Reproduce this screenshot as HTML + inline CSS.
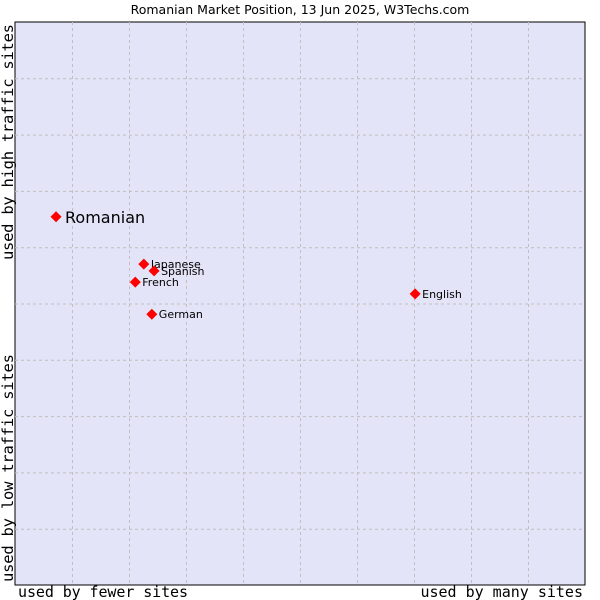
<!DOCTYPE html>
<html><head><meta charset="utf-8"><style>
body{margin:0;background:#fff;}
svg{display:block;font-family:"DejaVu Sans","Liberation Sans",sans-serif;}
</style></head><body>
<svg id="chart" width="600" height="600">
<text x="300" y="14" text-anchor="middle" font-size="12.5" fill="#000">Romanian Market Position, 13 Jun 2025, W3Techs.com</text>
<rect x="15" y="22" width="570" height="563" fill="#e3e4f8" stroke="#000" stroke-width="1"/>
<g id="grid"></g>
<g id="points"></g>
<text x="18" y="597" font-family="DejaVu Sans Mono,Liberation Mono,monospace" font-size="15" textLength="170">used by fewer sites</text>
<text x="583" y="597" text-anchor="end" font-family="DejaVu Sans Mono,Liberation Mono,monospace" font-size="15">used by many sites</text>
<text transform="translate(13,260) rotate(-90)" font-family="DejaVu Sans Mono,Liberation Mono,monospace" font-size="15.5" textLength="236">used by high traffic sites</text>
<text transform="translate(13,582) rotate(-90)" font-family="DejaVu Sans Mono,Liberation Mono,monospace" font-size="15.5" textLength="228">used by low traffic sites</text>
</svg>
<script>
const languages=["Romanian","Japanese","Spanish","French","German","English"];
const siteShare=[7.2,22.6,24.4,21.1,24.0,70.2];
const trafficRank=[65.4,57.0,55.8,53.8,48.1,51.7];
const NS="http://www.w3.org/2000/svg";
const L=15,T=22,W=570,H=563;
const xs=v=>L+v/100*W, ys=v=>T+H-v/100*H;
const grid=document.getElementById('grid');
for(let i=1;i<10;i++){
  const g=document.createElementNS(NS,'line');
  
  
  g.setAttribute('x1',xs(i*10)+0.5);g.setAttribute('x2',xs(i*10)+0.5);
  g.setAttribute('y1',T);g.setAttribute('y2',T+H);
  g.setAttribute('stroke','#c0c0c0');g.setAttribute('stroke-dasharray','3,3');
  grid.appendChild(g);
  const h=document.createElementNS(NS,'line');
  
  
  h.setAttribute('y1',ys(i*10)+0.5);h.setAttribute('y2',ys(i*10)+0.5);
  h.setAttribute('x1',L);h.setAttribute('x2',L+W);
  h.setAttribute('stroke','#c0c0c0');h.setAttribute('stroke-dasharray','3,3');
  grid.appendChild(h);
}
const pts=document.getElementById('points');
languages.forEach((n,i)=>{
  const x=xs(siteShare[i]),y=ys(trafficRank[i]);
  const big=i===0;
  const p=document.createElementNS(NS,'polygon');
  
  
  const r=5.5;
  p.setAttribute('points',`${x},${y-r} ${x+r},${y} ${x},${y+r} ${x-r},${y}`);
  p.setAttribute('fill','#ff0000');
  pts.appendChild(p);
  const t=document.createElementNS(NS,'text');
  
  
  t.setAttribute('x',x+(big?9:7));t.setAttribute('y',y+(big?6:4));
  t.setAttribute('font-size',big?16:11);
  t.textContent=n;
  pts.appendChild(t);
});
</script>
</body></html>
